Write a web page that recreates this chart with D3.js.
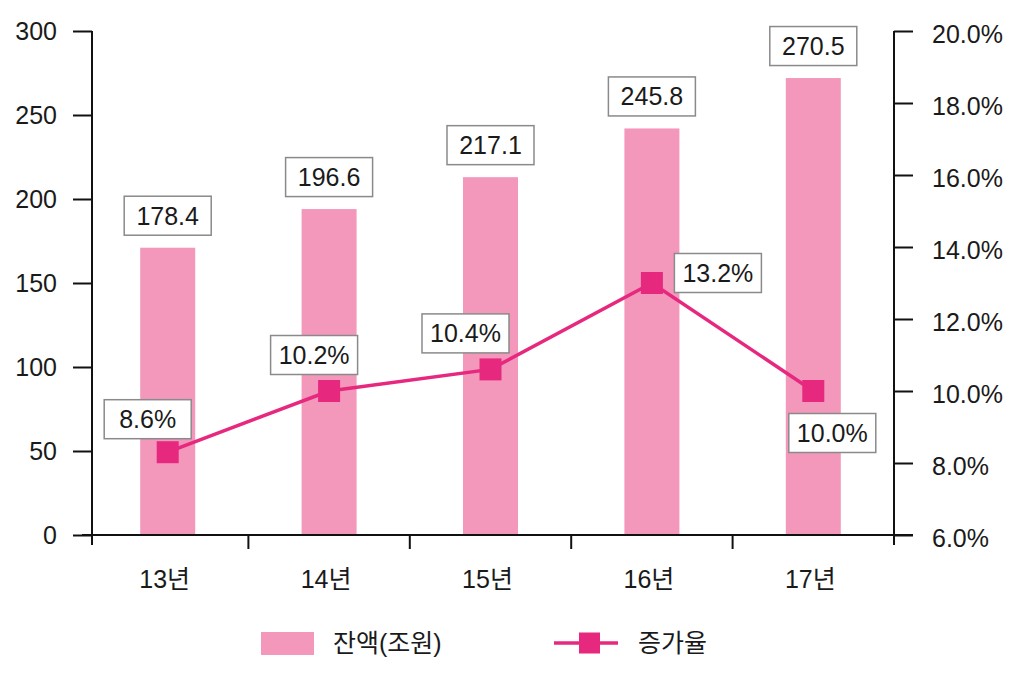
<!DOCTYPE html>
<html><head><meta charset="utf-8">
<script src="https://cdn.jsdelivr.net/npm/d3@7"></script>
<style>
html,body{margin:0;padding:0;background:#fff;}
svg text{font-family:"Liberation Sans","Noto Sans CJK KR",Arial,sans-serif;fill:#1a1a1a;}
</style></head>
<body><svg id="c" width="1024" height="676"></svg>
<script>
// ---- data ----
const categories = ["13년","14년","15년","16년","17년"];
// bar heights as drawn in the picture (잔액, 조원)
const balance = [171, 194, 213, 242, 272];
const balanceLabels = ["178.4","196.6","217.1","245.8","270.5"];
// line values as drawn (증가율, %)
const growth = [8.3, 10.0, 10.6, 13.0, 10.0];
const growthLabels = ["8.6%","10.2%","10.4%","13.2%","10.0%"];
const leftTicks = [0,50,100,150,200,250,300];
const rightTicks = [6,8,10,12,14,16,18,20];
const legendNames = ["잔액(조원)","증가율"];

// ---- layout / style ----
const barColor = "#F398BB", lineColor = "#E6297F", axisColor = "#111";
const growthLabelOffsets = [[-20,-33],[-15,-36],[-25,-36],[66,-10],[19,42]];
const svg = d3.select("#c");
const x = d3.scaleBand().domain(categories).range([87, 894]).padding(0);
const yL = d3.scaleLinear().domain([0,300]).range([535, 31]);
const yR = d3.scaleLinear().domain([6,20]).range([535, 31]);
const bw = 55;
const cx = d => x(d) + x.bandwidth()/2;

// bars
svg.append("g").selectAll("rect").data(categories).join("rect")
  .attr("x", d => cx(d) - bw/2).attr("width", bw)
  .attr("y", (d,i) => yL(balance[i])).attr("height", (d,i) => yL(0) - yL(balance[i]))
  .attr("fill", barColor);

// axes
const lAxis = svg.append("g").attr("transform","translate(92,0)")
  .call(d3.axisLeft(yL).tickValues(leftTicks).tickSize(19).tickPadding(16).tickSizeOuter(0));
const rAxis = svg.append("g").attr("transform","translate(894,0)")
  .call(d3.axisRight(yR).tickValues(rightTicks).tickSize(19).tickPadding(19).tickSizeOuter(0)
    .tickFormat(d => d.toFixed(1) + "%"));
[lAxis, rAxis].forEach(g => {
  g.select(".domain").remove();
  g.selectAll("line").attr("stroke", axisColor).attr("stroke-width", 2);
  g.selectAll("text").style("font-size","25px").attr("fill","#1a1a1a");
});
rAxis.selectAll("text").attr("dy","0.45em");
// axis lines
svg.append("line").attr("x1",92).attr("x2",92).attr("y1",yL(300)).attr("y2",545).attr("stroke",axisColor).attr("stroke-width",2);
svg.append("line").attr("x1",894).attr("x2",894).attr("y1",yR(20)).attr("y2",545).attr("stroke",axisColor).attr("stroke-width",2);
svg.append("line").attr("x1",82).attr("x2",913).attr("y1",yL(0)).attr("y2",yL(0)).attr("stroke",axisColor).attr("stroke-width",2);
// x ticks at band boundaries
svg.append("g").selectAll("line").data(categories.slice(1)).join("line")
  .attr("x1", d => x(d)).attr("x2", d => x(d)).attr("y1", yL(0)).attr("y2", 549)
  .attr("stroke", axisColor).attr("stroke-width", 2);
svg.append("g").selectAll("text").data(categories).join("text")
  .attr("x", d => cx(d) - 3).attr("y", 588).attr("text-anchor","middle")
  .style("font-size","25px").text(d => d);

// label box helper
function box(g, x0, y0, t){
  g.append("rect").attr("x", x0-43.5).attr("y", y0-19.5).attr("width",87).attr("height",39)
   .attr("fill","#fff").attr("stroke","#8a8a8a").attr("stroke-width",1.5);
  g.append("text").attr("x", x0).attr("y", y0).attr("dy","0.36em").attr("text-anchor","middle")
   .style("font-size","25px").text(t);
}
const bl = svg.append("g");
categories.forEach((c,i) => box(bl, cx(c), yL(balance[i]) - 32, balanceLabels[i]));

// line
const line = d3.line().x((d,i) => cx(categories[i])).y(d => yR(d));
svg.append("path").datum(growth).attr("d", line).attr("fill","none")
  .attr("stroke", lineColor).attr("stroke-width", 3.5);
svg.append("g").selectAll("rect").data(growth).join("rect")
  .attr("x",(d,i) => cx(categories[i]) - 11).attr("y", d => yR(d) - 11)
  .attr("width",22).attr("height",22).attr("fill",lineColor);
const gl = svg.append("g");
growth.forEach((v,i) => box(gl, cx(categories[i]) + growthLabelOffsets[i][0], yR(v) + growthLabelOffsets[i][1], growthLabels[i]));

// legend
const lg = svg.append("g");
lg.append("rect").attr("x",261).attr("y",632).attr("width",53).attr("height",23).attr("fill",barColor);
lg.append("text").attr("x",333).attr("y",643).attr("dy","0.36em").style("font-size","25px").text(legendNames[0]);
lg.append("line").attr("x1",554).attr("x2",618).attr("y1",643).attr("y2",643).attr("stroke",lineColor).attr("stroke-width",3.5);
lg.append("rect").attr("x",579).attr("y",632.5).attr("width",21).attr("height",21).attr("fill",lineColor);
lg.append("text").attr("x",638).attr("y",643).attr("dy","0.36em").style("font-size","25px").text(legendNames[1]);
</script></body></html>
